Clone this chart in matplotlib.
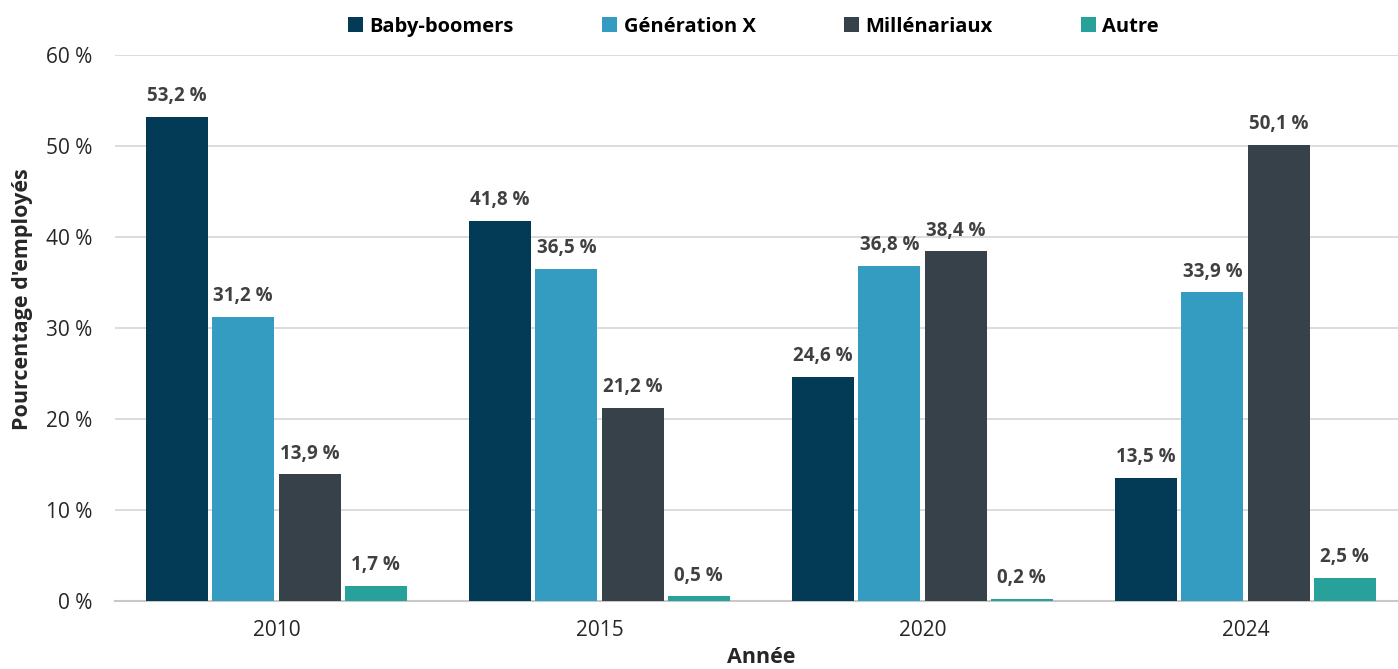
import matplotlib.pyplot as plt
import numpy as np

plt.rcParams['font.family'] = ['Open Sans', 'DejaVu Sans']

years = ['2010', '2015', '2020', '2024']
series = ['Baby-boomers', 'Génération X', 'Millénariaux', 'Autre']
baby_boomers = [53.2, 41.8, 24.6, 13.5]
generation_x = [31.2, 36.5, 36.8, 33.9]
millenariaux = [13.9, 21.2, 38.4, 50.1]
autre = [1.7, 0.5, 0.2, 2.5]
values = [baby_boomers, generation_x, millenariaux, autre]
colors = ['#033A56', '#339CC0', '#36414A', '#27A19A']

fig = plt.figure(figsize=(13.98, 6.69), dpi=100)
# axes run a bit past the right edge, like the original
ax = fig.add_axes([0.0822, 0.1016, 0.9242, 0.8164])

x = np.arange(len(years))
slot = 0.205
width = 0.192
for i, (name, vals) in enumerate(zip(series, values)):
    pos = x + (i - 1.5) * slot
    ax.bar(pos, vals, width=width, color=colors[i], label=name, zorder=3)
    for p, v in zip(pos, vals):
        ax.text(p, v + 1.2, f"{v:.1f} %".replace('.', ','), ha='center', va='bottom',
                fontsize=13.5, fontweight='bold', color='#404040')

ax.set_xlim(-0.5, 3.5)
ax.set_ylim(0, 60)
ax.set_yticks(range(0, 61, 10))
ax.set_yticklabels([f"{t} %" for t in range(0, 61, 10)])
ax.set_xticks(x)
ax.set_xticklabels(years)
ax.tick_params(axis='both', length=0, labelsize=15, colors='#262626')
ax.tick_params(axis='x', pad=14)
ax.tick_params(axis='y', pad=16)
ax.grid(axis='y', color='#D9D9D9', linewidth=1.3, zorder=0)
for s in ['top', 'right', 'left']:
    ax.spines[s].set_visible(False)
ax.spines['bottom'].set_color('#C8C8C8')
ax.spines['bottom'].set_linewidth(1.5)

ax.set_xlabel('Année', fontsize=15.5, fontweight='bold', color='#262626', labelpad=4)
ax.set_ylabel("Pourcentage d'employés", fontsize=15.5, fontweight='bold', color='#262626')
ax.yaxis.set_label_coords(-0.0635, 0.553)

fig.legend(loc='center', bbox_to_anchor=(0.539, 0.96), ncol=4, frameon=False,
           prop={'size': 14.5, 'weight': 'bold'}, handlelength=0.75, handleheight=0.75,
           handletextpad=0.3, columnspacing=4.4)

fig.savefig('out.png', dpi=100)
